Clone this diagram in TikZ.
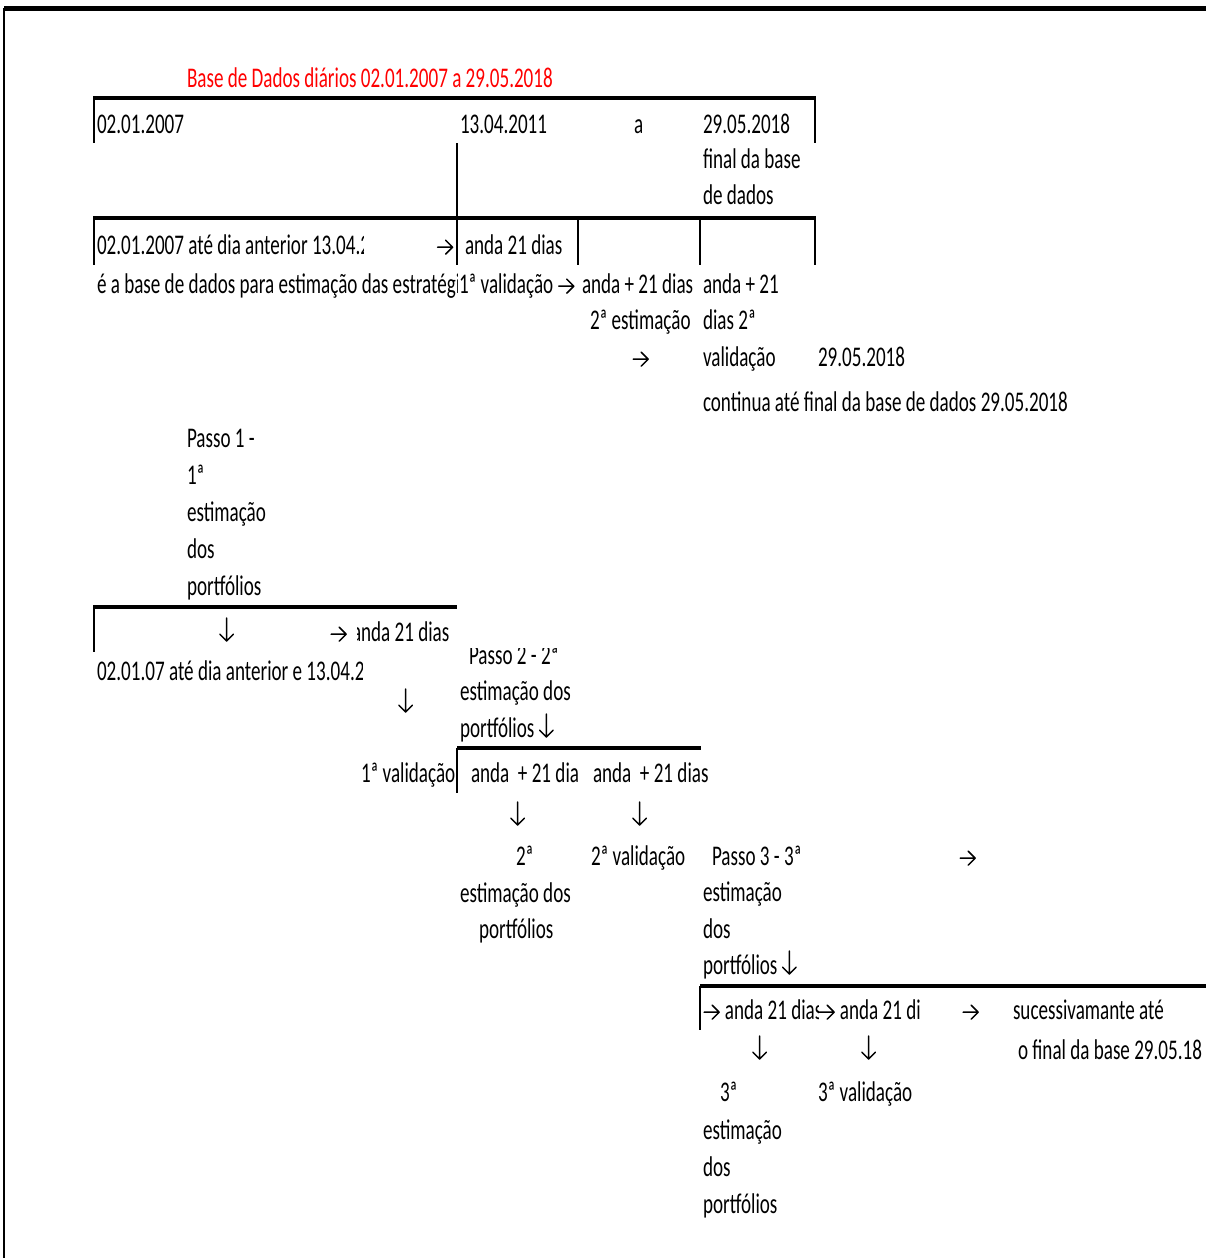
\documentclass[tikz,border=0pt]{standalone}
\usepackage{fontspec}
\setmainfont{Carlito}[FakeStretch=0.67]
\newcommand\myra{\tikz[baseline=0pt,x=1pt,y=1pt,line cap=round,line join=round]{\path (-0.6,0) (8.2,0); \draw[line width=0.75pt] (0,3.4)--(7.5,3.4) (4,-0.1)--(7.5,3.4)--(4,6.9);}}
\newcommand\myda{\tikz[baseline=0pt,x=1pt,y=1pt,line cap=round,line join=round]{\path (-0.3,0) (7.3,0); \draw[line width=0.75pt] (3.5,11.5)--(3.5,0) (0.1,3.4)--(3.5,0)--(6.9,3.4);}}
\definecolor{titlered}{HTML}{FF0000}
\tikzset{
  txt/.style={anchor=base west, inner sep=0pt, outer sep=0pt, font=\fontsize{14.25}{17}\selectfont},
  txte/.style={txt, anchor=base east},
  thickrule/.style={line width=2pt},
  framerule/.style={line width=2.5pt},
  thinrule/.style={line width=1pt},
  edgerule/.style={line width=1.4pt},
}
\begin{document}
\begin{tikzpicture}[x=0.5pt,y=-0.5pt]
\useasboundingbox (0,0) rectangle (1206,1258);
% frame
\draw[framerule] (4,8) -- (1206,8);
\draw[thinrule] (4,8) -- (4,1258);
% first table
\draw[thickrule] (93,98) -- (816,98);
\draw[thinrule] (94,98) -- (94,143);
\draw[edgerule] (815,98) -- (815,143);
\draw[thinrule] (457,143) -- (457,218);
\draw[thickrule] (93,218) -- (816,218);
\draw[thinrule] (94,218) -- (94,265);
\draw[thinrule] (457,218) -- (457,265);
\draw[thinrule] (578,218) -- (578,265);
\draw[thinrule] (700,218) -- (700,265);
\draw[edgerule] (815,218) -- (815,265);
% second table
\draw[thickrule] (93,607) -- (457,607);
\draw[thinrule] (94,607) -- (94,652);
% third
\draw[thickrule] (457,748) -- (701,748);
\draw[thinrule] (457,748) -- (457,793);
% fourth
\draw[thickrule] (700,986) -- (1206,986);
\draw[thinrule] (700,986) -- (700,1030);

% texts
\node[txt, text=titlered] (title) at (187,87) {Base de Dados diários 02.01.2007 a 29.05.2018};
\node[txt] (r1a) at (97,133) {02.01.2007};
\node[txt] (r1b) at (460,133) {13.04.2011};
\node[txt] (r1c) at (634,133) {a};
\node[txt] (r1d) at (703,133) {29.05.2018};
\node[txt] (r2) at (703,168) {final da base};
\node[txt] (r3) at (703,204) {de dados};
\begin{scope}
\clip (90,220) rectangle (363,270);
\node[txt] (r4a) at (97,254) {\makebox[133pt][l]{02.01.2007 até dia anterior 13.04.2011}};
\end{scope}
\node[txte] (r4b) at (454,254) {\myra};
\node[txt] (r4c) at (465,254) {anda 21 dias};
\begin{scope}
\clip (90,265) rectangle (457,305);
\node[txt] (r5a) at (97,293) {\makebox[179pt][l]{é a base de dados para estimação das estratégi}};
\end{scope}
\node[txt] (r5b) at (459,293) {1ª validação \myra};
\node[txt] (r5c) at (582,293) {anda + 21 dias};
\node[txt] (r5d) at (703,293) {anda + 21};
\node[txt] (r6a) at (590,329) {2ª estimação};
\node[txt] (r6b) at (703,329) {dias 2ª};
\node[txt] (r7a) at (632,366) {\myra};
\node[txt] (r7b) at (703,366) {validação};
\node[txt] (r7c) at (818,366) {29.05.2018};
\node[txt] (r8) at (703,411) {continua até final da base de dados 29.05.2018};
\node[txt] (p1a) at (187,447) {Passo 1 -};
\node[txt] (p1b) at (187,484) {1ª};
\node[txt] (p1c) at (187,521) {estimação};
\node[txt] (p1d) at (187,558) {dos};
\node[txt] (p1e) at (187,595) {portfólios};
\node[txt] (r14a) at (219,641) {\myda};
\node[txt] (r14b) at (330,641) {\myra};
\begin{scope}
\clip (357,610) rectangle (460,652);
\node[txt] (r14c) at (352,641) {anda 21 dias};
\end{scope}
\begin{scope}
\clip (460,648) rectangle (600,680);
\node[txt] (p2a) at (469,664) {Passo 2 - 2ª};
\end{scope}
\begin{scope}
\clip (90,652) rectangle (362,690);
\node[txt] (r15) at (97,680) {\makebox[132pt][l]{02.01.07 até dia anterior e 13.04.2011}};
\end{scope}
\node[txt] (p2b) at (460,700) {estimação dos};
\node[txt] (r16) at (398,712) {\myda};
\node[txt] (p2c) at (460,737) {portfólios \myda};
\node[txt] (r18a) at (361,782) {1ª validação};
\begin{scope}
\clip (460,750) rectangle (578,795);
\node[txt] (r18b) at (471,782) {\makebox[53pt][l]{anda \ + 21 dias}};
\end{scope}
\node[txt] (r18c) at (593,782) {anda \ + 21 dias};
\node[txt] (r19a) at (510,825) {\myda};
\node[txt] (r19b) at (632,825) {\myda};
\node[txt] (r20a) at (516,865) {2ª};
\node[txt] (r20b) at (591,865) {2ª validação};
\node[txt] (r20c) at (712,865) {Passo 3 - 3ª};
\node[txt] (r20d) at (959,865) {\myra};
\node[txt] (r21a) at (460,902) {estimação dos};
\node[txt] (r21b) at (703,901) {estimação};
\node[txt] (r22a) at (479,938) {portfólios};
\node[txt] (r22b) at (703,938) {dos};
\node[txt] (r23) at (703,974) {portfólios \myda};
\begin{scope}
\clip (700,990) rectangle (818,1032);
\node[txt] (r24a) at (703,1019) {\makebox[57pt][l]{\myra\ anda 21 dias}};
\end{scope}
\begin{scope}
\clip (818,990) rectangle (920,1032);
\node[txt] (r24b) at (818,1019) {\makebox[51pt][l]{\myra\ anda 21 dias}};
\end{scope}
\node[txt] (r24c) at (962,1019) {\myra};
\node[txt] (r24d) at (1013,1019) {sucessivamante até};
\node[txt] (r25a) at (752,1059) {\myda};
\node[txt] (r25b) at (861,1059) {\myda};
\node[txt] (r25c) at (1018,1059) {o final da base 29.05.18};
\node[txt] (r26a) at (720,1101) {3ª};
\node[txt] (r26b) at (818,1101) {3ª validação};
\node[txt] (r27) at (703,1139) {estimação};
\node[txt] (r28) at (703,1176) {dos};
\node[txt] (r29) at (703,1213) {portfólios};
\end{tikzpicture}
\end{document}
